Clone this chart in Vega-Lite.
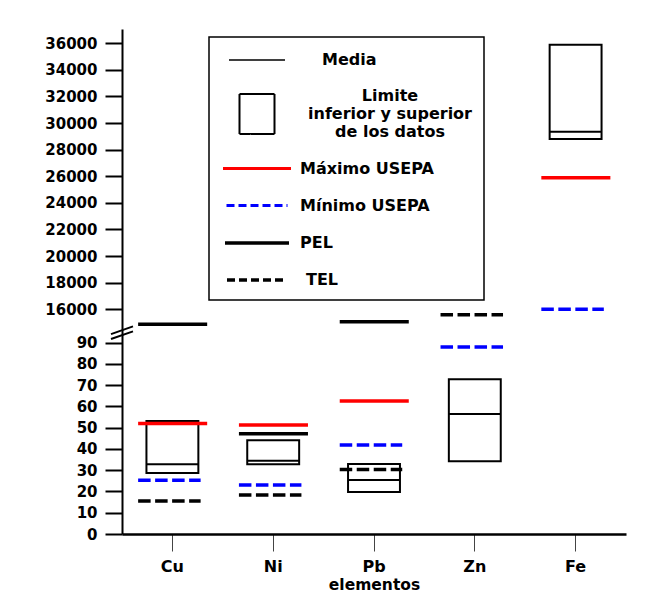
{
  "$schema": "https://vega.github.io/schema/vega-lite/v6.json",
  "width": 504,
  "height": 505,
  "autosize": "none",
  "padding": {"left": 122, "top": 29, "right": 34, "bottom": 67},
  "background": "white",
  "config": {"view": {"stroke": null}, "font": "DejaVu Sans", "legend": {"strokeWidth": 1.5}},
  "datasets": {
    "principal": [
      {"elemento": "Cu", "min": 28.7, "max": 53.2, "media": 32.8, "usepa_max": 52, "usepa_min": 25.3, "pel": 8850, "tel": 15.5},
      {"elemento": "Ni", "min": 32.8, "max": 44.1, "media": 34.5, "usepa_max": 51.3, "usepa_min": 23, "pel": 47.2, "tel": 18.3},
      {"elemento": "Pb", "min": 19.8, "max": 32.9, "media": 25.4, "usepa_max": 62.6, "usepa_min": 41.9, "pel": 10100, "tel": 30.3},
      {"elemento": "Zn", "min": 34.2, "max": 72.8, "media": 56.4, "usepa_max": null, "usepa_min": 88, "pel": null, "tel": 13400},
      {"elemento": "Fe", "min": 28800, "max": 35900, "media": 29350, "usepa_max": 25900, "usepa_min": 16000, "pel": null, "tel": null}
    ],
    "leyenda": [
      {"serie": "Media"},
      {"serie": "Limite inferior y superior de los datos"},
      {"serie": "Máximo USEPA"},
      {"serie": "Mínimo USEPA"},
      {"serie": "PEL"},
      {"serie": "TEL"}
    ]
  },
  "layer": [
    {
      "data": {"name": "principal"},
      "mark": {"type": "bar", "fillOpacity": 0, "fill": "white", "stroke": "black", "strokeWidth": 2, "width": {"band": 0.515}},
      "encoding": {
        "x": {
          "field": "elemento", "type": "nominal", "sort": ["Cu", "Ni", "Pb", "Zn", "Fe"], "title": "elementos",
          "scale": {"paddingInner": 0, "paddingOuter": 0},
          "axis": {"labelAngle": 0, "domainColor": "black", "domainWidth": 2.5, "tickColor": "#444444", "tickWidth": 1, "tickSize": 17,
                   "labelFont": "DejaVu Sans", "labelFontSize": 16, "labelFontWeight": "bold", "labelColor": "black", "labelPadding": 7,
                   "titleFont": "DejaVu Sans", "titleFontSize": 15.5, "titleFontWeight": "bold", "titleColor": "black", "titlePadding": 3}
        },
        "y": {
          "field": "min", "type": "quantitative", "title": null,
          "scale": {"domain": [0, 90, 16000, 37075], "range": [505, 313.7, 280.3, 0], "nice": false, "zero": false},
          "axis": {"values": [0, 10, 20, 30, 40, 50, 60, 70, 80, 90, 16000, 18000, 20000, 22000, 24000, 26000, 28000, 30000, 32000, 34000, 36000],
                   "tickCount": 60, "format": "d", "title": null, "grid": false, "domainColor": "black", "domainWidth": 2, "tickColor": "black", "tickWidth": 2, "tickSize": 17,
                   "labelFont": "DejaVu Sans", "labelFontSize": 15, "labelFontWeight": "bold", "labelColor": "black", "labelPadding": 8, "labelOverlap": false}
        },
        "y2": {"field": "max"}
      }
    },
    {
      "data": {"name": "principal"},
      "mark": {"type": "rule", "stroke": "black", "strokeWidth": 2},
      "encoding": {
        "x": {"field": "elemento", "type": "nominal", "sort": ["Cu", "Ni", "Pb", "Zn", "Fe"], "bandPosition": 0.243, "title": "elementos"},
        "x2": {"field": "elemento", "bandPosition": 0.757},
        "y": {"field": "media", "type": "quantitative", "title": null}
      }
    },
    {
      "data": {"name": "principal"},
      "mark": {"type": "rule", "stroke": "#ff0000", "strokeWidth": 3.5},
      "encoding": {
        "x": {"field": "elemento", "type": "nominal", "sort": ["Cu", "Ni", "Pb", "Zn", "Fe"], "bandPosition": 0.16, "title": "elementos"},
        "x2": {"field": "elemento", "bandPosition": 0.845},
        "y": {"field": "usepa_max", "type": "quantitative", "title": null}
      }
    },
    {
      "data": {"name": "principal"},
      "mark": {"type": "rule", "stroke": "#0000ff", "strokeWidth": 3.5, "strokeDash": [12.5, 4.5]},
      "encoding": {
        "x": {"field": "elemento", "type": "nominal", "sort": ["Cu", "Ni", "Pb", "Zn", "Fe"], "bandPosition": 0.16, "title": "elementos"},
        "x2": {"field": "elemento", "bandPosition": 0.78},
        "y": {"field": "usepa_min", "type": "quantitative", "title": null}
      }
    },
    {
      "data": {"name": "principal"},
      "mark": {"type": "rule", "stroke": "black", "strokeWidth": 3.5},
      "encoding": {
        "x": {"field": "elemento", "type": "nominal", "sort": ["Cu", "Ni", "Pb", "Zn", "Fe"], "bandPosition": 0.16, "title": "elementos"},
        "x2": {"field": "elemento", "bandPosition": 0.845},
        "y": {"field": "pel", "type": "quantitative", "title": null}
      }
    },
    {
      "data": {"name": "principal"},
      "mark": {"type": "rule", "stroke": "black", "strokeWidth": 3.5, "strokeDash": [12.5, 4.5]},
      "encoding": {
        "x": {"field": "elemento", "type": "nominal", "sort": ["Cu", "Ni", "Pb", "Zn", "Fe"], "bandPosition": 0.16, "title": "elementos"},
        "x2": {"field": "elemento", "bandPosition": 0.78},
        "y": {"field": "tel", "type": "quantitative", "title": null}
      }
    },
    {
      "data": {"values": [{"corte": "eje"}]},
      "mark": {"type": "point", "shape": "M-1,0.1L1,-0.6M-1,0.55L1,-0.15", "size": 484, "filled": false, "stroke": "black", "strokeWidth": 2, "opacity": 1},
      "encoding": {
        "x": {"value": 0},
        "y": {"datum": 4710, "type": "quantitative", "title": null}
      }
    },
    {
      "data": {"name": "leyenda"},
      "mark": {"type": "point", "filled": false, "opacity": 0},
      "encoding": {
        "stroke": {"field": "serie", "type": "nominal",
          "scale": {"domain": ["Media", "Limite inferior y superior de los datos", "Máximo USEPA", "Mínimo USEPA", "PEL", "TEL"],
                    "range": ["black", "black", "#ff0000", "#0000ff", "black", "black"]},
          "legend": {"title": null, "orient": "none", "legendX": 87, "legendY": 8, "padding": 12, "strokeColor": "black", "fillColor": "white",
                     "symbolSize": 400, "symbolOffset": 24, "rowPadding": 17, "symbolOpacity": 1,
                     "labelOffset": {"expr": "datum.value == 'Media' ? 53 : datum.value == 'TEL' ? 37 : datum.value == 'Limite inferior y superior de los datos' ? 121 : 31"},
                     "labelAlign": {"expr": "datum.value == 'Limite inferior y superior de los datos' ? 'center' : 'left'"},
                     "labelFont": "DejaVu Sans", "labelFontSize": 16, "labelFontWeight": "bold", "labelColor": "black", "labelLimit": 0,
                     "labelExpr": "datum.label == 'Limite inferior y superior de los datos' ? ['Limite', 'inferior y superior', 'de los datos'] : datum.label"}
        },
        "shape": {"field": "serie", "type": "nominal",
          "scale": {"domain": ["Media", "Limite inferior y superior de los datos", "Máximo USEPA", "Mínimo USEPA", "PEL", "TEL"],
                    "range": ["M-2.8,0H2.8", "M-1.75,-0.2H1.75V3.8H-1.75Z", "M-3.4,0H3.4", "M-3.05,0H3.05", "M-3.2,0H3.2", "M-3,0H3"]},
          "legend": {"title": null, "orient": "none", "legendX": 87, "legendY": 8, "padding": 12, "strokeColor": "black", "fillColor": "white",
                     "symbolSize": 400, "symbolOffset": 24, "rowPadding": 17, "symbolOpacity": 1,
                     "labelOffset": {"expr": "datum.value == 'Media' ? 53 : datum.value == 'TEL' ? 37 : datum.value == 'Limite inferior y superior de los datos' ? 121 : 31"},
                     "labelAlign": {"expr": "datum.value == 'Limite inferior y superior de los datos' ? 'center' : 'left'"},
                     "labelFont": "DejaVu Sans", "labelFontSize": 16, "labelFontWeight": "bold", "labelColor": "black", "labelLimit": 0,
                     "labelExpr": "datum.label == 'Limite inferior y superior de los datos' ? ['Limite', 'inferior y superior', 'de los datos'] : datum.label"}
        },
        "strokeDash": {"field": "serie", "type": "nominal",
          "scale": {"domain": ["Media", "Limite inferior y superior de los datos", "Máximo USEPA", "Mínimo USEPA", "PEL", "TEL"],
                    "range": [[1, 0], [1, 0], [1, 0], [8, 4], [1, 0], [8, 4]]},
          "legend": {"title": null, "orient": "none", "legendX": 87, "legendY": 8, "padding": 12, "strokeColor": "black", "fillColor": "white",
                     "symbolSize": 400, "symbolOffset": 24, "rowPadding": 17, "symbolOpacity": 1,
                     "labelOffset": {"expr": "datum.value == 'Media' ? 53 : datum.value == 'TEL' ? 37 : datum.value == 'Limite inferior y superior de los datos' ? 121 : 31"},
                     "labelAlign": {"expr": "datum.value == 'Limite inferior y superior de los datos' ? 'center' : 'left'"},
                     "labelFont": "DejaVu Sans", "labelFontSize": 16, "labelFontWeight": "bold", "labelColor": "black", "labelLimit": 0,
                     "labelExpr": "datum.label == 'Limite inferior y superior de los datos' ? ['Limite', 'inferior y superior', 'de los datos'] : datum.label"}
        },
        "strokeWidth": {"field": "serie", "type": "nominal",
          "scale": {"type": "ordinal", "domain": ["Media", "Limite inferior y superior de los datos", "Máximo USEPA", "Mínimo USEPA", "PEL", "TEL"],
                    "range": [1.5, 2, 3, 3, 3.5, 3.5]},
          "legend": {"title": null, "orient": "none", "legendX": 87, "legendY": 8, "padding": 12, "strokeColor": "black", "fillColor": "white",
                     "symbolSize": 400, "symbolOffset": 24, "rowPadding": 17, "symbolOpacity": 1,
                     "labelOffset": {"expr": "datum.value == 'Media' ? 53 : datum.value == 'TEL' ? 37 : datum.value == 'Limite inferior y superior de los datos' ? 121 : 31"},
                     "labelAlign": {"expr": "datum.value == 'Limite inferior y superior de los datos' ? 'center' : 'left'"},
                     "labelFont": "DejaVu Sans", "labelFontSize": 16, "labelFontWeight": "bold", "labelColor": "black", "labelLimit": 0,
                     "labelExpr": "datum.label == 'Limite inferior y superior de los datos' ? ['Limite', 'inferior y superior', 'de los datos'] : datum.label"}
        }
      }
    }
  ]
}
